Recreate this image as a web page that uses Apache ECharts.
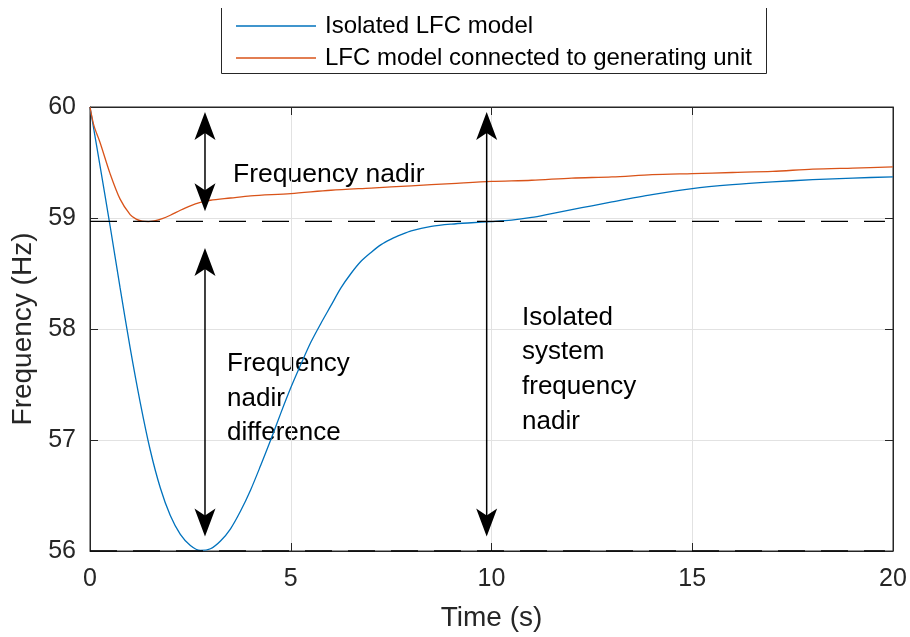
<!DOCTYPE html>
<html><head><meta charset="utf-8">
<script src="https://cdn.jsdelivr.net/npm/echarts@6/dist/echarts.min.js"></script>
<style>html,body{margin:0;padding:0;background:#fff}#c{width:910px;height:637px}</style>
</head><body><div id="c"></div>
<script>
// ---- data ----
const seriesNames = ['Isolated LFC model', 'LFC model connected to generating unit'];
const timeIsolated = [0,0.25,0.5,0.75,1.0,1.25,1.5,1.75,2.0,2.25,2.5,2.75,3.0,3.25,3.5,3.75,4.0,4.25,4.5,4.75,5.0,5.25,5.5,5.75,6.0,6.25,6.5,6.75,7.0,7.25,7.5,7.75,8.0,8.5,9.0,9.5,10,10.5,11,11.5,12,12.5,13,14,15,16,17,18,19,20];
const freqIsolated = [60,59.47,58.93,58.37,57.83,57.34,56.91,56.57,56.32,56.15,56.05,56.005,56.02,56.09,56.20,56.36,56.55,56.77,57.00,57.24,57.47,57.68,57.88,58.05,58.21,58.37,58.50,58.61,58.69,58.76,58.81,58.85,58.885,58.925,58.945,58.957,58.967,58.98,59.005,59.04,59.075,59.11,59.145,59.21,59.265,59.30,59.325,59.345,59.36,59.37];
const timeConnected = [0,0.1,0.25,0.5,0.75,1.0,1.15,1.3,1.45,1.6,1.8,2.0,2.25,2.5,2.75,3.0,3.5,4.0,5,6,7,8,9,10,11,12,13,14,15,16,17,18,19,20];
const freqConnected = [60,59.83,59.68,59.40,59.17,59.03,58.99,58.972,58.968,58.975,58.995,59.025,59.07,59.11,59.14,59.16,59.18,59.20,59.22,59.25,59.27,59.29,59.31,59.33,59.34,59.36,59.37,59.39,59.40,59.41,59.42,59.44,59.45,59.46];
const refLineTime = [0, 19.8];
const connectedNadir = 58.97;
const isolatedNadir = 56;
const arrowTime = [2.864, 2.864, 9.88];
const arrowTop = [59.955, 58.73, 59.955];
const arrowBottom = [59.06, 56.13, 56.13];
const annotationTexts = ['Frequency nadir', 'Frequency\nnadir\ndifference', 'Isolated\nsystem\nfrequency\nnadir'];
const xRange = [0, 20], xStep = 5;
const yRange = [56, 60], yStep = 1;

const axisColor = '#262626';
const font = 'Liberation Sans, Arial, Helvetica, sans-serif';
const chart = echarts.init(document.getElementById('c'));

const zip = (xs, ys) => xs.map((x, i) => [x, ys[i]]);
const refLine = v => refLineTime.map(t => [t, v]);
const arrowData = arrowTime.map((t, i) => [t, arrowTop[i], arrowBottom[i]]);

// arrow head geometry (pixels)
const headLen = 28, headHalfW = 10.5, notch = 7;
function renderArrow(params, api) {
  const x = api.value(0);
  const p1 = api.coord([x, api.value(1)]);
  const p2 = api.coord([x, api.value(2)]);
  const cx = p1[0];
  return {
    type: 'group',
    children: [
      {type: 'line', shape: {x1: cx, y1: p1[1] + 10, x2: p2[0], y2: p2[1] - 10},
       style: {stroke: '#000', lineWidth: 1.5}},
      {type: 'polygon', shape: {points: [[cx, p1[1]], [cx - headHalfW, p1[1] + headLen], [cx, p1[1] + headLen - notch], [cx + headHalfW, p1[1] + headLen]]},
       style: {fill: '#000'}},
      {type: 'polygon', shape: {points: [[p2[0], p2[1]], [p2[0] - headHalfW, p2[1] - headLen], [p2[0], p2[1] - headLen + notch], [p2[0] + headHalfW, p2[1] - headLen]]},
       style: {fill: '#000'}}
    ]
  };
}

const baseX = {
  type: 'value', min: xRange[0], max: xRange[1], interval: xStep,
  axisLine: {show: true, onZero: false, lineStyle: {color: axisColor, width: 1}},
  axisTick: {show: true, inside: true, length: 8, lineStyle: {color: axisColor}},
  splitLine: {show: false}
};
const baseY = {
  type: 'value', min: yRange[0], max: yRange[1], interval: yStep,
  axisLine: {show: true, onZero: false, lineStyle: {color: axisColor, width: 1}},
  axisTick: {show: true, inside: true, length: 8, lineStyle: {color: axisColor}},
  splitLine: {show: false}
};

chart.setOption({
  animation: false,
  backgroundColor: '#fff',
  grid: {left: 90, right: 17, top: 107, bottom: 85, show: true, borderColor: axisColor, borderWidth: 1, containLabel: false},
  xAxis: [
    Object.assign({}, baseX, {
      position: 'bottom',
      name: 'Time (s)', nameLocation: 'middle', nameGap: 53,
      nameTextStyle: {color: axisColor, fontSize: 28, fontFamily: font},
      axisLabel: {color: axisColor, fontSize: 25, fontFamily: font, margin: 16},
      splitLine: {show: true, lineStyle: {color: '#e2e2e2', width: 1}}
    }),
    Object.assign({}, baseX, {position: 'top', axisLabel: {show: false}})
  ],
  yAxis: [
    Object.assign({}, baseY, {
      position: 'left',
      name: 'Frequency (Hz)', nameLocation: 'middle', nameGap: 48,
      nameTextStyle: {color: axisColor, fontSize: 28, fontFamily: font},
      axisLabel: {color: axisColor, fontSize: 25, fontFamily: font, margin: 14},
      splitLine: {show: true, lineStyle: {color: '#e2e2e2', width: 1}}
    }),
    Object.assign({}, baseY, {position: 'right', axisLabel: {show: false}})
  ],
  legend: {
    data: seriesNames, orient: 'vertical', left: 231, top: 9,
    icon: 'rect', itemWidth: 80, itemHeight: 1.4, itemGap: 8,
    textStyle: {color: '#000', fontSize: 24, fontFamily: font, lineHeight: 24, padding: [0, 0, 0, 4]},
    backgroundColor: 'transparent', borderWidth: 0
  },
  graphic: [
    {type: 'polyline', silent: true, shape: {points: [[221.5, 8], [221.5, 73.5], [766.5, 73.5], [766.5, 8]]},
     style: {stroke: axisColor, lineWidth: 1, fill: null}},
    {type: 'text', left: 233, top: 157, silent: true,
     style: {text: annotationTexts[0], font: '26.5px ' + font, fill: '#000', lineHeight: 34.5}},
    {type: 'text', left: 227, top: 347, silent: true,
     style: {text: annotationTexts[1], font: '26px ' + font, fill: '#000', lineHeight: 34.3}},
    {type: 'text', left: 522, top: 300, silent: true,
     style: {text: annotationTexts[2], font: '26px ' + font, fill: '#000', lineHeight: 34.7}}
  ],
  series: [
    {name: seriesNames[0], type: 'line', data: zip(timeIsolated, freqIsolated), smooth: 0.3,
     symbol: 'none', lineStyle: {color: '#0072BD', width: 1.3}, itemStyle: {color: '#0072BD'}, z: 3},
    {name: seriesNames[1], type: 'line', data: zip(timeConnected, freqConnected), smooth: 0.3,
     symbol: 'none', lineStyle: {color: '#D95319', width: 1.3}, itemStyle: {color: '#D95319'}, z: 4},
    {name: 'nadirConnected', type: 'line', data: refLine(connectedNadir), symbol: 'none', silent: true,
     lineStyle: {color: '#000', width: 1.4, type: [27, 16]}, z: 5},
    {name: 'nadirIsolated', type: 'line', data: refLine(isolatedNadir), symbol: 'none', silent: true,
     lineStyle: {color: '#000', width: 1.4, type: [27, 16]}, z: 5},
    {name: 'arrows', type: 'custom', coordinateSystem: 'cartesian2d', data: arrowData,
     renderItem: renderArrow, silent: true, clip: false, z: 6}
  ]
});
</script></body></html>
